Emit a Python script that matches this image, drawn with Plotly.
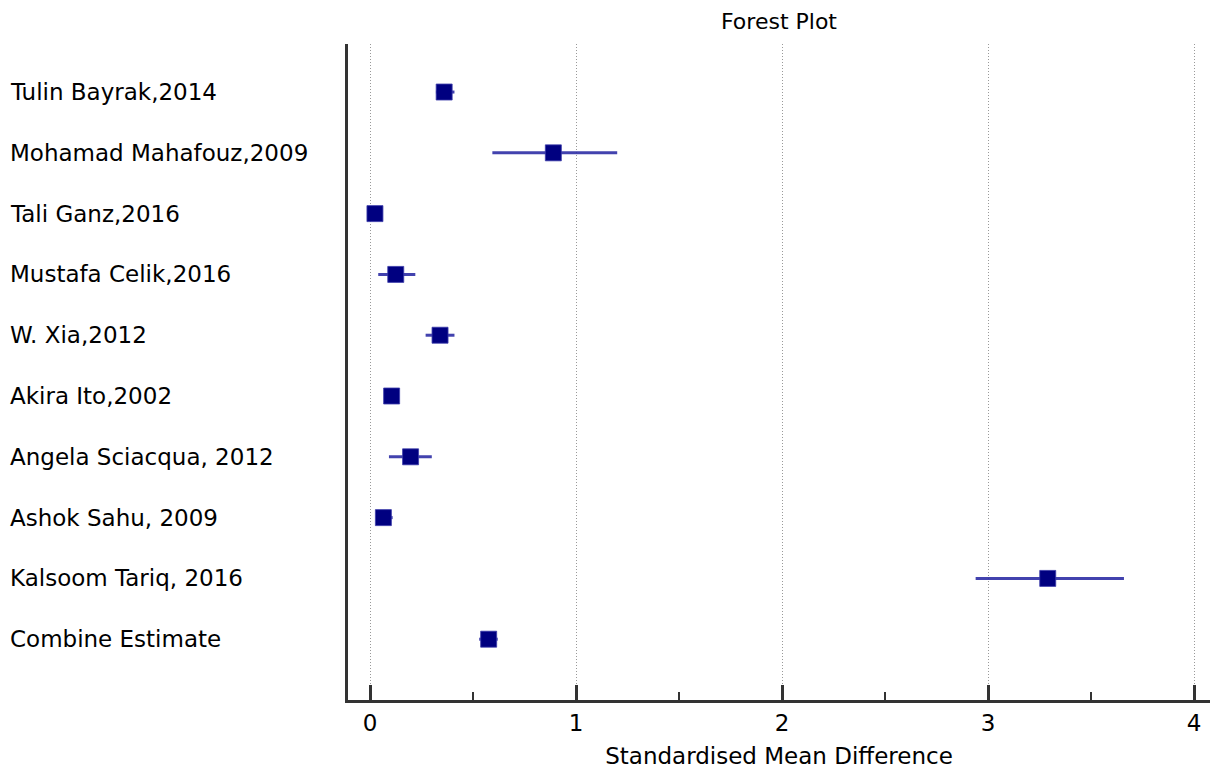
import plotly.graph_objects as go

studies = ["Tulin Bayrak,2014", "Mohamad Mahafouz,2009", "Tali Ganz,2016",
           "Mustafa Celik,2016", "W. Xia,2012", "Akira Ito,2002",
           "Angela Sciacqua, 2012", "Ashok Sahu, 2009", "Kalsoom Tariq, 2016",
           "Combine Estimate"]
smd = [0.36, 0.89, 0.024, 0.125, 0.34, 0.105, 0.197, 0.065, 3.29, 0.576]
ci_low = [0.32, 0.594, 0.00, 0.04, 0.27, 0.07, 0.092, 0.04, 2.94, 0.53]
ci_high = [0.41, 1.20, 0.05, 0.22, 0.41, 0.14, 0.30, 0.11, 3.66, 0.62]
x_ticks = [0, 1, 2, 3, 4]

rows = list(range(1, len(studies) + 1))
FONT = "DejaVu Sans, Liberation Sans, sans-serif"
FS = 23

fig = go.Figure()
fig.add_trace(go.Scatter(
    x=smd, y=rows, mode="markers",
    marker=dict(symbol="square", size=16, color="#000080",
                line=dict(width=1, color="rgba(60,60,170,0.8)")),
    error_x=dict(type="data", symmetric=False,
                 array=[h - m for h, m in zip(ci_high, smd)],
                 arrayminus=[m - l for m, l in zip(smd, ci_low)],
                 width=0, thickness=3, color="rgba(45,45,165,0.9)"),
    showlegend=False, hoverinfo="skip"))

for name, r in zip(studies, rows):
    fig.add_annotation(text=name, x=(8 - 348) / 862, xref="paper", y=r, yref="y",
                       xanchor="left", yanchor="middle", showarrow=False,
                       font=dict(family=FONT, size=FS, color="black"))

fig.update_layout(
    width=1210, height=769,
    margin=dict(l=348, r=0, t=44, b=69),
    plot_bgcolor="white", paper_bgcolor="white",
    font=dict(family=FONT, size=FS, color="black"),
    title=dict(text="Forest Plot", x=0.5, xref="paper", xanchor="center",
               y=1 - 21 / 769, yref="container", yanchor="middle",
               font=dict(family=FONT, size=22, color="black")),
)
fig.update_xaxes(
    range=[-22 / 206, 862 / 206 - 22 / 206],
    tickvals=x_ticks, ticktext=[str(v) for v in x_ticks],
    ticks="inside", ticklen=15, tickwidth=3, tickcolor="#333333",
    minor=dict(ticks="inside", ticklen=8, tickwidth=2, tickcolor="#333333",
               dtick=0.5, tick0=0, showgrid=False),
    showline=True, linewidth=3, linecolor="#333333",
    showgrid=True, gridcolor="#999999", gridwidth=1, griddash="1px,2px",
    zeroline=False,
    tickfont=dict(family=FONT, size=FS, color="black"),
    title=dict(text="Standardised Mean Difference", standoff=14,
               font=dict(family=FONT, size=FS, color="black")),
)
fig.update_yaxes(
    range=[11.0, 0.21], showticklabels=False, ticks="",
    showline=True, linewidth=3, linecolor="#333333",
    showgrid=False, zeroline=False,
)

fig.write_html("out.html", config={"displayModeBar": False},
               post_script="document.body.style.margin='0';document.body.style.overflow='hidden';")
